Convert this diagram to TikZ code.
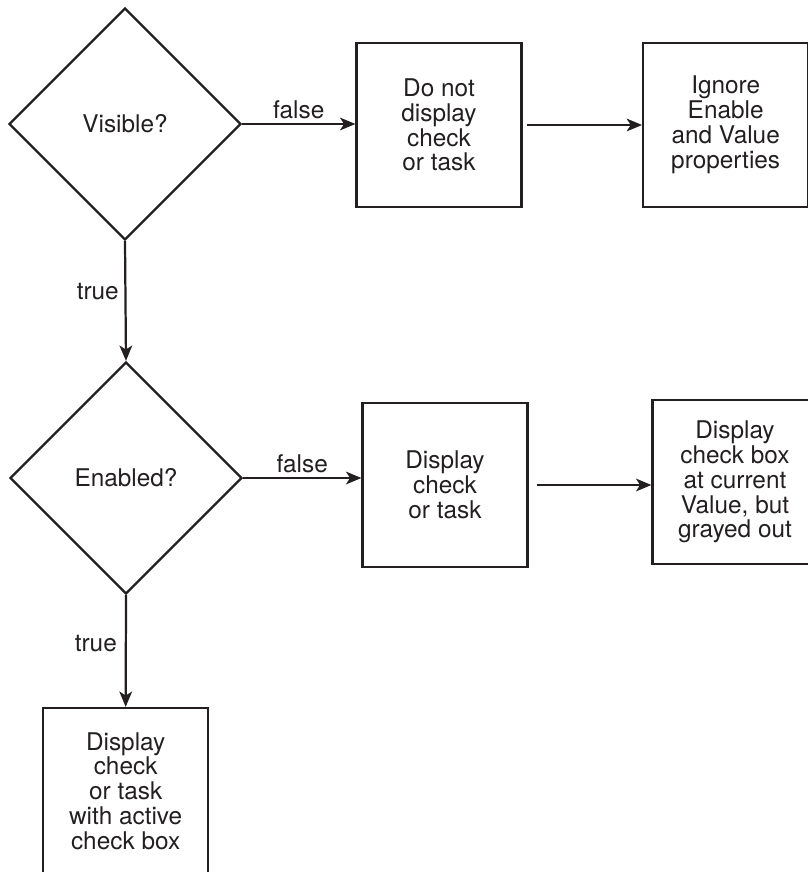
\documentclass[tikz,border=0pt]{standalone}
\usepackage{fontspec}
\setmainfont{TeX Gyre Heros}
\usetikzlibrary{shapes.geometric,arrows.meta}
\definecolor{ink}{RGB}{35,31,32}

\begin{document}
\begin{tikzpicture}[
    every node/.style={text=ink, font=\fontsize{20.8}{21.2}\selectfont},
    decision/.style={diamond, draw=ink, line width=1.9pt, inner sep=0pt, minimum width=6.96cm, minimum height=6.96cm},
    action/.style={rectangle, draw=ink, line width=1.9pt, align=center, minimum width=4.95cm, minimum height=4.92cm},
    flow/.style={draw=ink, line width=1.9pt, -{Stealth[length=0.46cm, width=0.38cm, inset=0.12cm]}}
]

    \useasboundingbox (0,0) rectangle (24.21,-26.16);

    % visible test
    \node[decision] (Vis) at (3.75,-3.72) {Visible?};

    \node[action] (Hide) at (13.17,-3.75) {Do not\\display\\check\\or task};

    \node[action] (Ign) at (21.77,-3.75) {Ignore\\Enable\\and Value\\properties};

    % enabled test
    \node[decision] (Ena) at (3.78,-14.34) {Enabled?};

    \node[action] (Show) at (13.35,-14.55) {Display\\check\\or task};

    \node[action] (Gray) at (22.05,-14.46) {Display\\check box\\at current\\Value, but\\grayed out};

    % active
    \node[action, minimum height=4.98cm] (Act) at (3.77,-23.73) {Display\\check\\or task\\with active\\check box};

    \draw[flow] (Vis.east) --node[midway, above] {false} (Hide.west |- Vis.east);
    \draw[flow, shorten <=0.12cm] (Hide.east) -- (Ign.west);

    \draw[flow] (Vis.south) --node[pos=0.42, left, xshift=-0.05cm] {true} (Ena.north);

    \draw[flow] (Ena.east) --node[midway, above] {false} (Show.west |- Ena.east);
    \draw[flow, shorten <=0.24cm] (Show.east) -- (Gray.west |- Show.east);

    \draw[flow] (Ena.south) --node[pos=0.43, left, xshift=-0.12cm] {true} (Act.north);

\end{tikzpicture}
\end{document}
